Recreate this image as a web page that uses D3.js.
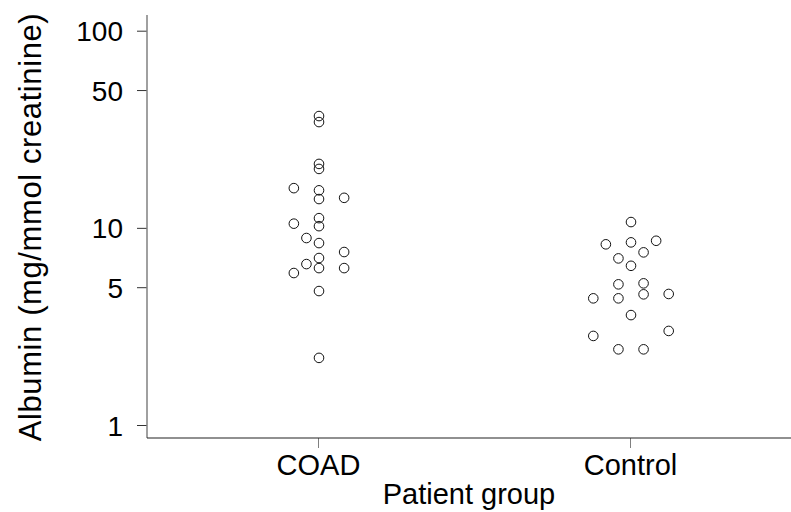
<!DOCTYPE html>
<html>
<head>
<meta charset="utf-8">
<script src="https://cdn.jsdelivr.net/npm/d3@7"></script>
<style>
  body { margin: 0; background: #fff; }
  text { font-family: "Liberation Sans", Arial, sans-serif; fill: #000; }
</style>
</head>
<body>
<div id="chart"></div>
<script>
// groups on the x axis
var groups = ["COAD", "Control"];

// albumin values (mg/mmol creatinine)
var coadValues  = [36.9, 34.4, 21.1, 19.9, 15.9, 15.5, 14.2, 14.0, 11.2, 10.5, 10.2,
                   8.88, 8.37, 7.54, 7.03, 6.55, 6.25, 6.25, 5.90, 4.78, 2.19];
// dot-plot slot of each point (side-by-side stacking of near values)
var coadSlots   = [0, 0, 0, 0, -2, 0, 2, 0, 0, -2, 0,
                   -1, 0, 2, 0, -1, 0, 2, -2, 0, 0];

var controlValues = [10.7, 8.25, 8.44, 8.60, 7.51, 7.00, 6.42, 5.17, 5.23, 4.39, 4.39,
                     4.60, 4.62, 3.61, 2.83, 3.00, 2.42, 2.42];
var controlSlots  = [0, -2, 0, 2, 1, -1, 0, -1, 1, -3, -1,
                     1, 3, 0, -3, 3, -1, 1];

var yTicks = [1, 5, 10, 50, 100];

var width = 791, height = 512;
var left = 147, axisY = 438;

var points = [];
coadValues.forEach(function(v, i) { points.push({group: "COAD", value: v, slot: coadSlots[i]}); });
controlValues.forEach(function(v, i) { points.push({group: "Control", value: v, slot: controlSlots[i]}); });

var svg = d3.select("#chart").append("svg")
    .attr("width", width)
    .attr("height", height);

var x = d3.scalePoint()
    .domain(groups)
    .range([318, 630]);

var y = d3.scaleLog()
    .domain([1, 100])
    .range([425, 30.7]);

var slotStep = 12.57;

// y axis
var yAxis = svg.append("g")
    .attr("transform", "translate(" + left + ",0)")
    .call(d3.axisLeft(y).tickValues(yTicks).tickFormat(d3.format("d")).tickSize(10).tickPadding(14));
yAxis.select(".domain").remove();
yAxis.selectAll(".tick line").attr("stroke", "#333");
yAxis.selectAll(".tick text")
    .style("font-size", "28px")
    .attr("dy", "0.36em");
yAxis.append("line")
    .attr("x1", 0).attr("x2", 0)
    .attr("y1", 15).attr("y2", axisY)
    .attr("stroke", "#808080")
    .attr("stroke-width", 1.5);

// x axis
var xAxis = svg.append("g")
    .attr("transform", "translate(0," + axisY + ")")
    .call(d3.axisBottom(x).tickSize(10).tickPadding(0));
xAxis.select(".domain").remove();
xAxis.selectAll(".tick line").attr("stroke", "#808080");
xAxis.selectAll(".tick text")
    .style("font-size", "29px")
    .attr("y", 37)
    .attr("dy", 0);
xAxis.append("line")
    .attr("x1", left).attr("x2", width)
    .attr("y1", 0).attr("y2", 0)
    .attr("stroke", "#222")
    .attr("stroke-width", 1.2);

// axis titles
svg.append("text")
    .attr("x", (left + width) / 2)
    .attr("y", 504)
    .attr("text-anchor", "middle")
    .style("font-size", "29px")
    .text("Patient group");

svg.append("text")
    .attr("transform", "translate(41," + 227 + ") rotate(-90)")
    .attr("text-anchor", "middle")
    .style("font-size", "31px")
    .style("letter-spacing", "0.6px")
    .text("Albumin (mg/mmol creatinine)");

// points
svg.selectAll("circle.pt")
    .data(points)
    .enter()
    .append("circle")
    .attr("class", "pt")
    .attr("cx", function(d) { return x(d.group) + 1 + d.slot * slotStep; })
    .attr("cy", function(d) { return y(d.value); })
    .attr("r", 4.8)
    .attr("fill", "none")
    .attr("stroke", "#111")
    .attr("stroke-width", 1);
</script>
</body>
</html>
